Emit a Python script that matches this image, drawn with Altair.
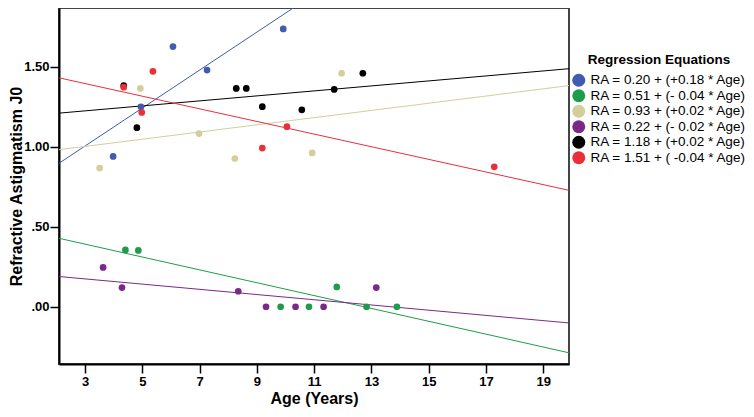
import altair as alt
import pandas as pd

# ---- data ----
labels = [
    "RA = 0.20 + (+0.18 * Age)",
    "RA = 0.51 + (- 0.04 * Age)",
    "RA = 0.93 + (+0.02 * Age)",
    "RA = 0.22 + (- 0.02 * Age)",
    "RA = 1.18 + (+0.02 * Age)",
    "RA = 1.51 + ( -0.04 * Age)",
]
colors = ["#3f5cb0", "#1f9c4b", "#d3ce9b", "#792a89", "#000000", "#ea2f39"]

blue_age = [3.98, 4.95, 6.07, 7.26, 9.92]
blue_ra = [0.94, 1.25, 1.627, 1.48, 1.737]
green_age = [4.41, 4.86, 9.83, 10.82, 11.79, 12.83, 13.89]
green_ra = [0.355, 0.352, 0.0, 0.0, 0.124, 0.0, 0.0]
tan_age = [3.51, 4.93, 6.98, 8.23, 10.93, 11.96]
tan_ra = [0.867, 1.365, 1.083, 0.927, 0.962, 1.46]
purple_age = [3.63, 4.29, 8.35, 9.32, 10.35, 11.33, 13.17]
purple_ra = [0.246, 0.12, 0.097, 0.0, 0.0, 0.0, 0.12]
black_age = [4.35, 4.81, 8.28, 8.63, 9.19, 10.57, 11.70, 12.70]
black_ra = [1.383, 1.12, 1.365, 1.365, 1.251, 1.231, 1.359, 1.46]
red_age = [4.35, 4.98, 5.37, 9.19, 10.05, 17.29]
red_ra = [1.373, 1.215, 1.472, 0.992, 1.126, 0.875]

# fitted lines as drawn (intercept, slope)
intercepts = [0.649, 0.512, 0.935, 0.223, 1.178, 1.514]
slopes = [0.1187, -0.0402, 0.0225, -0.0163, 0.0156, -0.0395]

x_domain = [2.09, 19.9]
y_domain = [-0.358, 1.868]
x_ticks = [3, 5, 7, 9, 11, 13, 15, 17, 19]
y_ticks = [0.0, 0.5, 1.0, 1.5]

# ---- build tables ----
ages = [blue_age, green_age, tan_age, purple_age, black_age, red_age]
ras = [blue_ra, green_ra, tan_ra, purple_ra, black_ra, red_ra]
rows = []
for lab, a_list, r_list in zip(labels, ages, ras):
    for a, r in zip(a_list, r_list):
        rows.append({"age": a, "ra": r, "series": lab})
pts = pd.DataFrame(rows)

lrows = []
for lab, col, b0, b1 in zip(labels, colors, intercepts, slopes):
    for xv in x_domain:
        lrows.append({"age": xv, "ra": b0 + b1 * xv, "series": lab, "col": col})
lines = pd.DataFrame(lrows)

FONT = "Liberation Sans"

xscale = alt.Scale(domain=x_domain, nice=False, zero=False)
yscale = alt.Scale(domain=y_domain, nice=False, zero=False)
cscale = alt.Scale(domain=labels, range=colors)

xaxis = alt.Axis(
    values=x_ticks, format="d", title="Age (Years)",
    titleFontSize=16, titleFontWeight="bold", titleColor="black", titlePadding=2,
    labelFontSize=13, labelFontWeight="bold", labelColor="black", labelPadding=2,
    tickSize=9, tickColor="black", tickWidth=1.5,
    domainColor="black", domainWidth=2, grid=False, labelFlush=False,
)
yaxis = alt.Axis(
    values=y_ticks, title="Refractive Astigmatism J0",
    labelExpr="datum.value < 1 ? substring(format(datum.value, '.2f'), 1) : format(datum.value, '.2f')",
    titleFontSize=16, titleFontWeight="bold", titleColor="black",
    titleX=-35, titleY=178,
    labelFontSize=13, labelFontWeight="bold", labelColor="black", labelPadding=1,
    tickSize=9, tickColor="black", tickWidth=1.5,
    domainColor="black", domainWidth=2, grid=False, labelFlush=False,
)

point_layer = alt.Chart(pts).mark_circle(size=45, opacity=1).encode(
    x=alt.X("age:Q", scale=xscale, axis=xaxis),
    y=alt.Y("ra:Q", scale=yscale, axis=yaxis),
    color=alt.Color(
        "series:N", scale=cscale, sort=labels,
        legend=alt.Legend(
            title="Regression Equations", orient="none", legendX=513, legendY=45,
            titleFontSize=13.5, titleFontWeight="bold", titleColor="black",
            titleAnchor="middle", titlePadding=7,
            labelFontSize=13.5, labelColor="black", labelOffset=5,
            symbolType="circle", symbolSize=169, symbolStrokeWidth=0,
            symbolOpacity=1, rowPadding=0.5, padding=0, labelLimit=300,
        ),
    ),
)

line_layer = alt.Chart(lines).mark_line(clip=True, strokeWidth=1).encode(
    x=alt.X("age:Q", scale=xscale, axis=xaxis),
    y=alt.Y("ra:Q", scale=yscale, axis=yaxis),
    stroke=alt.Stroke("col:N", scale=None),
    detail="series:N",
)

chart = alt.layer(line_layer, point_layer).properties(
    width=510, height=356,
    autosize=alt.AutoSizeParams(type="none"),
    padding={"left": 51, "top": 0, "right": 177, "bottom": 45},
).configure(font=FONT).configure_view(stroke="#444444", strokeWidth=2)

chart.save("out.html", embed_options={"renderer": "svg", "actions": False})
